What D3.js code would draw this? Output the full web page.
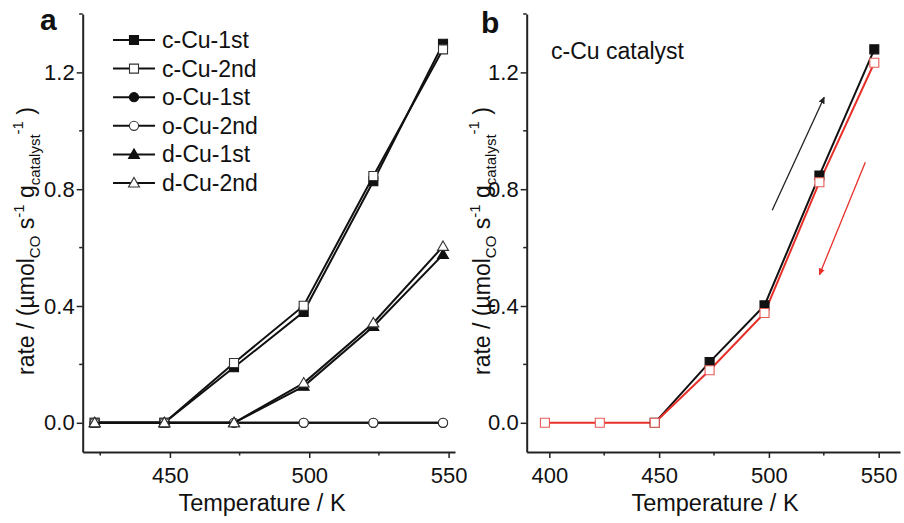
<!DOCTYPE html>
<html>
<head>
<meta charset="utf-8">
<script src="https://cdn.jsdelivr.net/npm/d3@7"></script>
<style>
  body { margin: 0; background: #fff; }
  svg { display: block; }
  text { font-family: "Liberation Sans", Arial, Helvetica, sans-serif; fill: #111; }
</style>
</head>
<body>
<div id="chart"></div>
<script>
// panel a data
const tempsA = [423, 448, 473, 498, 523, 548];
const cCu1st = [0, 0, 0.19, 0.38, 0.827, 1.298];
const cCu2nd = [0, 0, 0.205, 0.401, 0.845, 1.279];
const oCu1st = [0, 0, 0, 0, 0, 0];
const oCu2nd = [0, 0, 0, 0, 0, 0];
const dCu1st = [0, 0, 0, 0.125, 0.33, 0.576];
const dCu2nd = [0, 0, 0, 0.136, 0.342, 0.604];
const seriesNamesA = ["c-Cu-1st", "c-Cu-2nd", "o-Cu-1st", "o-Cu-2nd", "d-Cu-1st", "d-Cu-2nd"];

// panel b data (c-Cu catalyst, heating then cooling)
const tempsB1 = [448, 473, 498, 523, 548];
const rateB1 = [0, 0.208, 0.402, 0.847, 1.279];
const tempsB2 = [398, 423, 448, 473, 498, 523, 548];
const rateB2 = [0, 0, 0, 0.18, 0.376, 0.824, 1.233];

// ticks
const yMajor = [0, 0.4, 0.8, 1.2];
const yMinor = [0.2, 0.6, 1.0, 1.4];
const xMajorA = [450, 500, 550];
const xMajorB = [400, 450, 500, 550];
const xMinor = [425, 475, 525];

const width = 904, height = 523;
const svg = d3.select("#chart").append("svg")
  .attr("width", width)
  .attr("height", height);

const defs = svg.append("defs");
function arrowHead(id, color) {
  defs.append("marker")
    .attr("id", id)
    .attr("viewBox", "0 0 10 10")
    .attr("refX", 9).attr("refY", 5)
    .attr("markerWidth", 7).attr("markerHeight", 7)
    .attr("markerUnits", "userSpaceOnUse")
    .attr("orient", "auto")
    .append("path")
    .attr("d", "M0,0.5 L10,5 L0,9.5 Z")
    .attr("fill", color);
}
arrowHead("arrBlack", "#222");
arrowHead("arrRed", "#e8302a");

// Scales
const y = d3.scaleLinear().domain([-0.1, 1.4]).range([452, 14]);
const xA = d3.scaleLinear().domain([418.7, 552.3]).range([82.7, 455]);
const xB = d3.scaleLinear().domain([389.7, 559.7]).range([526.7, 900]);

function drawAxes(x, xMajor, xLeft) {
  const g = svg.append("g");
  // y axis
  const yAx = g.append("g").attr("transform", `translate(${xLeft},0)`)
    .call(d3.axisLeft(y).tickValues(yMajor).tickFormat(d3.format(".1f")).tickSize(6).tickSizeOuter(0).tickPadding(2));
  yAx.append("g").selectAll("line").data(yMinor).join("line")
    .attr("x1", -3.5).attr("x2", 0)
    .attr("y1", d => y(d)).attr("y2", d => y(d))
    .attr("stroke", "#222").attr("stroke-width", 1.5);
  // x axis
  const xAx = g.append("g").attr("transform", `translate(0,${y.range()[0]})`)
    .call(d3.axisBottom(x).tickValues(xMajor).tickSize(6).tickSizeOuter(0).tickPadding(9));
  xAx.append("g").selectAll("line").data(xMinor).join("line")
    .attr("x1", d => x(d)).attr("x2", d => x(d))
    .attr("y1", 0).attr("y2", 3.5)
    .attr("stroke", "#222").attr("stroke-width", 1.5);
  g.selectAll(".domain").attr("stroke", "#222").attr("stroke-width", 2);
  g.selectAll(".tick line").attr("stroke", "#222").attr("stroke-width", 1.5);
  g.selectAll(".tick text").attr("font-size", 22).attr("fill", "#111")
    .attr("font-family", '"Liberation Sans", Arial, sans-serif');
}

drawAxes(xA, xMajorA, 82.7);
drawAxes(xB, xMajorB, 526.7);

// markers
function drawMarker(g, type, cx, cy, filled, stroke) {
  const sym = type === "square" ? d3.symbolSquare : type === "circle" ? d3.symbolCircle : d3.symbolTriangle;
  const size = type === "square" ? 81 : type === "circle" ? 66 : 52;
  g.append("path")
    .attr("d", d3.symbol(sym, size)())
    .attr("transform", `translate(${cx},${cy + (type === "triangle" ? 0.8 : 0)})`)
    .attr("fill", filled ? stroke : "#fff")
    .attr("stroke", stroke)
    .attr("stroke-width", 1.1);
}

const lineGen = (x) => d3.line().x(d => x(d[0])).y(d => y(d[1]));

// panel a series
const seriesA = [
  { name: seriesNamesA[0], vals: cCu1st, type: "square", filled: true },
  { name: seriesNamesA[1], vals: cCu2nd, type: "square", filled: false },
  { name: seriesNamesA[2], vals: oCu1st, type: "circle", filled: true },
  { name: seriesNamesA[3], vals: oCu2nd, type: "circle", filled: false },
  { name: seriesNamesA[4], vals: dCu1st, type: "triangle", filled: true },
  { name: seriesNamesA[5], vals: dCu2nd, type: "triangle", filled: false }
];

const gA = svg.append("g");
seriesA.forEach(s => {
  const pts = tempsA.map((t, i) => [t, s.vals[i]]);
  gA.append("path").datum(pts)
    .attr("d", lineGen(xA))
    .attr("fill", "none").attr("stroke", "#111").attr("stroke-width", 2);
  pts.forEach(p => drawMarker(gA, s.type, xA(p[0]), y(p[1]), s.filled, s.filled ? "#111" : "#333"));
});

// legend panel a
const leg = svg.append("g").attr("transform", "translate(113,40)");
seriesA.forEach((s, i) => {
  const row = leg.append("g").attr("transform", `translate(0,${i * 28.6})`);
  row.append("line").attr("x1", 0).attr("x2", 42).attr("y1", 0).attr("y2", 0)
    .attr("stroke", "#111").attr("stroke-width", 2);
  drawMarker(row, s.type, 21, 0, s.filled, s.filled ? "#111" : "#333");
  row.append("text").attr("x", 49).attr("y", 8).attr("font-size", 23).text(s.name);
});

// panel b series
const gB = svg.append("g");
const ptsB1 = tempsB1.map((t, i) => [t, rateB1[i]]);
const ptsB2 = tempsB2.map((t, i) => [t, rateB2[i]]);
gB.append("path").datum(ptsB1).attr("d", lineGen(xB))
  .attr("fill", "none").attr("stroke", "#111").attr("stroke-width", 2);
gB.append("path").datum(ptsB2).attr("d", lineGen(xB))
  .attr("fill", "none").attr("stroke", "#e8302a").attr("stroke-width", 2);
ptsB1.forEach(p => drawMarker(gB, "square", xB(p[0]), y(p[1]), true, "#111"));
ptsB2.forEach(p => drawMarker(gB, "square", xB(p[0]), y(p[1]), false, "#e85a55"));

// direction arrows in panel b
gB.append("line")
  .attr("x1", xB(501.5)).attr("y1", y(0.728))
  .attr("x2", xB(525.2)).attr("y2", y(1.115))
  .attr("stroke", "#222").attr("stroke-width", 1.3)
  .attr("marker-end", "url(#arrBlack)");
gB.append("line")
  .attr("x1", xB(543.9)).attr("y1", y(0.892))
  .attr("x2", xB(523)).attr("y2", y(0.507))
  .attr("stroke", "#e8302a").attr("stroke-width", 1.3)
  .attr("marker-end", "url(#arrRed)");

// panel letters and label
svg.append("text").attr("x", 40).attr("y", 30).attr("font-size", 30).attr("font-weight", "bold").text("a");
svg.append("text").attr("x", 481).attr("y", 33).attr("font-size", 30).attr("font-weight", "bold").text("b");
svg.append("text").attr("x", 551).attr("y", 59).attr("font-size", 23).text("c-Cu catalyst");

// axis titles
function xTitle(cx) {
  svg.append("text").attr("x", cx).attr("y", 511).attr("text-anchor", "middle")
    .attr("font-size", 23.5).text("Temperature / K");
}
xTitle(262);
xTitle(715);

function yTitle(bx) {
  const t = svg.append("text")
    .attr("transform", `translate(${bx},241) rotate(-90)`)
    .attr("text-anchor", "middle")
    .attr("font-size", 23);
  t.append("tspan").text("rate / (\u00b5mol");
  t.append("tspan").attr("font-size", 15).attr("dy", 6).text("CO");
  t.append("tspan").attr("dy", -6).text(" s");
  t.append("tspan").attr("font-size", 15).attr("dy", -10).text("-1");
  t.append("tspan").attr("dy", 10).text(" g");
  t.append("tspan").attr("font-size", 15).attr("dy", 6).text("catalyst");
  t.append("tspan").attr("font-size", 15).attr("dy", -17).text("-1");
  t.append("tspan").attr("dy", 11).text(" )");
}
yTitle(33.5);
yTitle(489.5);
</script>
</body>
</html>
